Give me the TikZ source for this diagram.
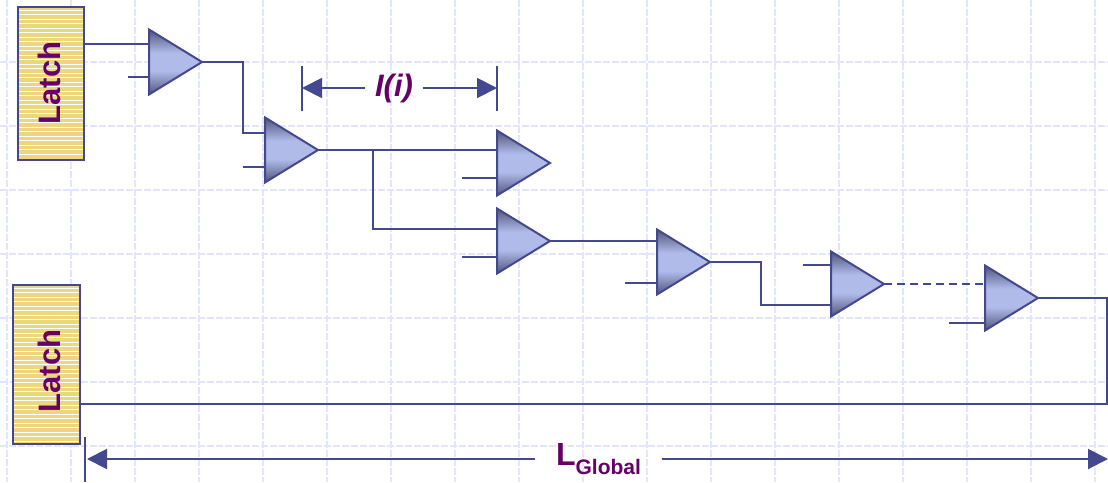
\documentclass[tikz,border=0pt]{standalone}
\usepackage{fontspec}
\setmainfont{Liberation Sans}
\usetikzlibrary{arrows.meta,shapes.geometric}
\definecolor{wireblue}{HTML}{44488F}
\definecolor{gridblue}{HTML}{E0E6FC}
\definecolor{labelpurple}{HTML}{660066}
\definecolor{latchyellow}{HTML}{ECD77F}
\definecolor{bufdark}{HTML}{50557A}
\definecolor{buflight}{HTML}{B0BBEA}
\pgfdeclareverticalshading{bufshade}{100bp}{color(0bp)=(bufdark); color(25bp)=(bufdark); color(43bp)=(buflight); color(57bp)=(buflight); color(75bp)=(bufdark); color(100bp)=(bufdark)}
\tikzset{
	wire/.style = {draw = wireblue, line width = 2pt},
	dimline/.style = {draw = wireblue, line width = 2pt, -{Triangle[length = 20pt, width = 20pt]}},
	gridline/.style = {draw = gridblue, line width = 1.3pt, dash pattern = on 7pt off 2pt},
	buf/.style = {isosceles triangle, isosceles triangle stretches, shape border rotate = 0, draw = wireblue, line width = 2pt, inner sep = 0pt, outer sep = 0pt, minimum width = 65pt, minimum height = 53pt, shading = bufshade, anchor = apex},
	latch/.style = {rectangle, draw = wireblue, line width = 2pt, inner sep = 0pt, outer sep = 0pt, fill = latchyellow},
	lbl/.style = {text = labelpurple, font = \fontsize{31pt}{31pt}\selectfont\bfseries}
}
\begin{document}
\begin{tikzpicture}[x = 1pt, y = -1pt]
	\useasboundingbox (0,0) rectangle (1108,482);

	\foreach \gx in {7,71,...,1095} \draw[gridline] (\gx,0) -- (\gx,482);
	\foreach \gy in {62,126,...,446} \draw[gridline] (0,\gy) -- (1108,\gy);

	\node[latch, minimum width = 66pt, minimum height = 153pt] (lone) at (51,83.5) {};
	\node[latch, minimum width = 67pt, minimum height = 159pt] (ltwo) at (46.5,364.5) {};
	\foreach \sy in {10,14.5,...,158} \draw[white, line width = 1pt] (19,\sy) -- (83,\sy);
	\foreach \sy in {288,292.5,...,442} \draw[white, line width = 1pt] (14,\sy) -- (79,\sy);
	\node[lbl, rotate = 90] (tone) at (49,83) {Latch};
	\node[lbl, rotate = 90] (ttwo) at (49,371) {Latch};

	\node[buf] (a) at (202,62) {};
	\node[buf] (b) at (318,150) {};
	\node[buf] (c) at (550,163) {};
	\node[buf] (d) at (550,241) {};
	\node[buf] (e) at (710,262) {};
	\node[buf] (f) at (884,284) {};
	\node[buf] (g) at (1038,298) {};

	% free ends of the second inputs
	\coordinate (ain) at (128,77);
	\coordinate (bin) at (243,167);
	\coordinate (cin) at (462,178);
	\coordinate (din) at (462,257);
	\coordinate (ein) at (625,283);
	\coordinate (fin) at (803,265);
	\coordinate (gin) at (949,323);

	\draw[wire] (ain) -- (ain -| a.lower side);
	\draw[wire] (bin) -- (bin -| b.lower side);
	\draw[wire] (cin) -- (cin -| c.lower side);
	\draw[wire] (din) -- (din -| d.lower side);
	\draw[wire] (ein) -- (ein -| e.lower side);
	\draw[wire] (fin) -- (fin -| f.lower side);
	\draw[wire] (gin) -- (gin -| g.lower side);

	\coordinate (loneout) at (83,44);
	\coordinate (ltwoout) at (79,404);
	\coordinate (ab) at (243,133);
	\coordinate (bsplit) at (373,150);
	\coordinate (bd) at (373,229);
	\coordinate (de) at (657,241);
	\coordinate (ef) at (761,305);
	\coordinate (fg) at (985,284);
	\coordinate (gturn) at (1107,298);

	\draw[wire] (loneout) -- (loneout -| a.lower side);
	\draw[wire] (a.apex) -| (ab) -- (ab -| b.lower side);
	\draw[wire] (b.apex) -- (b.apex -| c.lower side);
	\draw[wire] (bsplit) -- (bd) -- (bd -| d.lower side);
	\draw[wire] (d.apex) -- (de);
	\draw[wire] (e.apex) -| (ef) -- (ef -| f.lower side);
	\draw[wire, dash pattern = on 8pt off 5pt] (f.apex) -- (fg);
	\draw[wire] (g.apex) -- (gturn) |- (ltwoout);

	\coordinate (ibarl) at (302,66);
	\coordinate (ibarr) at (497,66);
	\coordinate (gbarl) at (85,437);
	\coordinate (gbarr) at (1108,437);
	\draw[wire] (ibarl) -- +(0,45);
	\draw[wire] (ibarr) -- +(0,45);
	\draw[wire] (gbarl) -- +(0,45);

	\node[lbl, font = \fontsize{31pt}{31pt}\selectfont\bfseries\itshape, minimum width = 57pt, inner sep = 0pt] (ii) at (394,88) {I(i)};
	\node[text = labelpurple, font = \fontsize{32pt}{32pt}\selectfont\bfseries, minimum width = 126pt, inner sep = 0pt] (lg) at (598.5,459) {L\raisebox{-9pt}{\fontsize{21pt}{21pt}\selectfont Global}};

	\draw[dimline] (ii) -- (ii -| ibarl);
	\draw[dimline] (ii) -- (ii -| ibarr);
	\draw[dimline, shorten >= 2pt] (lg) -- (lg -| gbarl);
	\draw[dimline] (lg) -- (lg -| gbarr);
\end{tikzpicture}
\end{document}
